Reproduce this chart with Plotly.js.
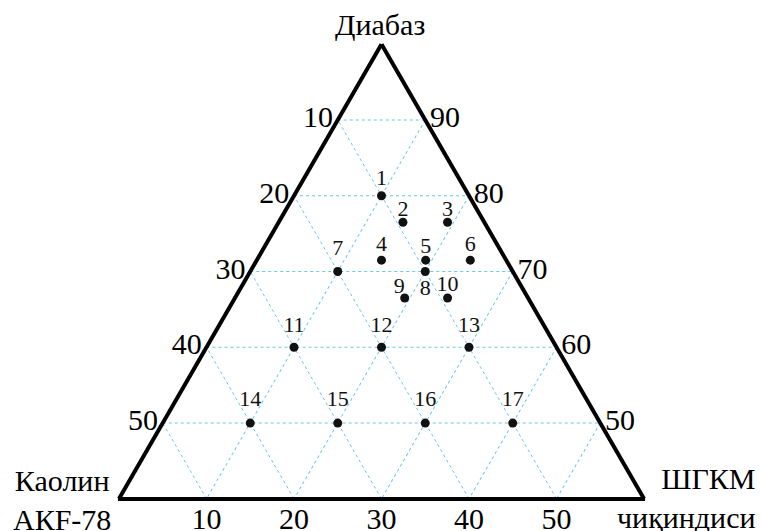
<!DOCTYPE html>
<html>
<head>
<meta charset="utf-8">
<script src="https://cdn.plot.ly/plotly-3.0.1.min.js"></script>
<style>
  html, body { margin: 0; padding: 0; background: #ffffff; }
  #chart { width: 761px; height: 531px; }
</style>
</head>
<body>
<div id="chart"></div>
<script>
// ---- data (percent composition of each sample) ----
const sampleLabels = ['1','2','3','4','5','6','7','8','9','10','11','12','13','14','15','16','17'];
const diabase = [80, 76.5, 76.5, 71.5, 71.5, 71.5, 70, 70, 66.5, 66.5, 60, 60, 60, 50, 50, 50, 50];
const kaolin  = [10, 9.3, 4.2, 14.25, 9.2, 4.1, 20, 10, 14.1, 9.2, 30, 20, 10, 40, 30, 20, 10];
const shgkm   = [10, 14.2, 19.3, 14.25, 19.3, 24.4, 10, 20, 19.4, 24.3, 10, 20, 30, 10, 20, 30, 40];

// ---- tick labels (values shown along each edge) ----
const leftTickVals   = [90, 80, 70, 60, 50];          // diabase level of each horizontal line
const leftTickText   = ['10', '20', '30', '40', '50']; // kaolin read on the left edge
const rightTickVals  = [10, 20, 30, 40, 50];          // shgkm level on the right edge
const rightTickText  = ['90', '80', '70', '60', '50']; // diabase read on the right edge
const bottomTickVals = [50, 40, 30, 20, 10];          // kaolin level on the bottom edge
const bottomTickText = ['10', '20', '30', '40', '50']; // shgkm read on the bottom edge

// ---- label placement styles (not data) ----
const labelPos = ['top center','top center','top center','top center','top center','top center',
                  'top center','bottom center','top left','top center',
                  'top center','top center','top center','top center','top center','top center','top center'];
const labelGap = [5.2, 1.2, 1.2, 3.8, 1.2, 3.5, 10.5, 7.5, 0, 1.2, 10.1, 10.1, 10.1, 11.1, 11.1, 11.1, 11.1];
const carrierSize = labelGap.map(r => r > 1 ? 2 * (r - 1) * 0.8 : 0);

const FONT = '"Liberation Serif", "Times New Roman", serif';
const GRID = '#66c8ee';

const pointsTrace = {
  type: 'scatterternary',
  mode: 'markers',
  a: diabase, b: kaolin, c: shgkm,
  marker: { size: 9, color: '#111111', line: { width: 0 } },
  hoverinfo: 'skip',
  showlegend: false
};

const labelTrace = {
  type: 'scatterternary',
  mode: 'markers+text',
  a: diabase, b: kaolin, c: shgkm,
  text: sampleLabels,
  textposition: labelPos,
  textfont: { family: FONT, size: 22, color: '#111111' },
  marker: { size: carrierSize, color: 'rgba(0,0,0,0)', line: { width: 0 } },
  hoverinfo: 'skip',
  showlegend: false
};

function axisStyle(extra) {
  return Object.assign({
    tickmode: 'array',
    ticks: '',
    showline: true,
    linecolor: '#000000',
    linewidth: 4,
    showgrid: true,
    gridcolor: GRID,
    gridwidth: 1,
    griddash: 'dot',
    tickfont: { family: FONT, size: 30, color: '#000000' },
    title: { text: '' }
  }, extra);
}

const layout = {
  width: 761,
  height: 531,
  margin: { l: 119, r: 117, t: 44, b: 32 },
  paper_bgcolor: '#ffffff',
  showlegend: false,
  hovermode: false,
  font: { family: FONT, color: '#000000' },
  ternary: {
    sum: 100,
    bgcolor: '#ffffff',
    domain: { x: [0, 1], y: [0, 1] },
    aaxis: axisStyle({ min: 40, tickvals: leftTickVals, ticktext: leftTickText }),
    // bottom edge drawn as a frame shape so the labels sit closer to it
    baxis: axisStyle({ min: 0, tickvals: bottomTickVals, ticktext: bottomTickText, showline: false }),
    caxis: axisStyle({ min: 0, tickvals: rightTickVals, ticktext: rightTickText })
  },
  shapes: [
    { type: 'line', xref: 'paper', yref: 'paper', x0: -0.002, x1: 1.002, y0: 0, y1: 0,
      line: { color: '#000000', width: 4 }, layer: 'above' }
  ],
  annotations: [
    { text: 'Диабаз', xref: 'paper', yref: 'paper', x: 0.498, y: 1.042,
      xanchor: 'center', yanchor: 'middle', showarrow: false,
      font: { family: FONT, size: 30, color: '#000000' } },
    { text: 'Каолин<br>АКF-78', xref: 'paper', yref: 'paper', x: -0.1086, y: -0.002,
      xanchor: 'center', yanchor: 'middle', align: 'center', showarrow: false,
      font: { family: FONT, size: 30, color: '#000000' } },
    { text: 'ШГКМ<br>чиқиндиси', xref: 'paper', yref: 'paper', x: 1.217, y: 0.002,
      xanchor: 'right', yanchor: 'middle', align: 'right', showarrow: false,
      font: { family: FONT, size: 30, color: '#000000' } }
  ]
};

Plotly.newPlot('chart', [pointsTrace, labelTrace], layout, { displayModeBar: false, staticPlot: true });
</script>
</body>
</html>
